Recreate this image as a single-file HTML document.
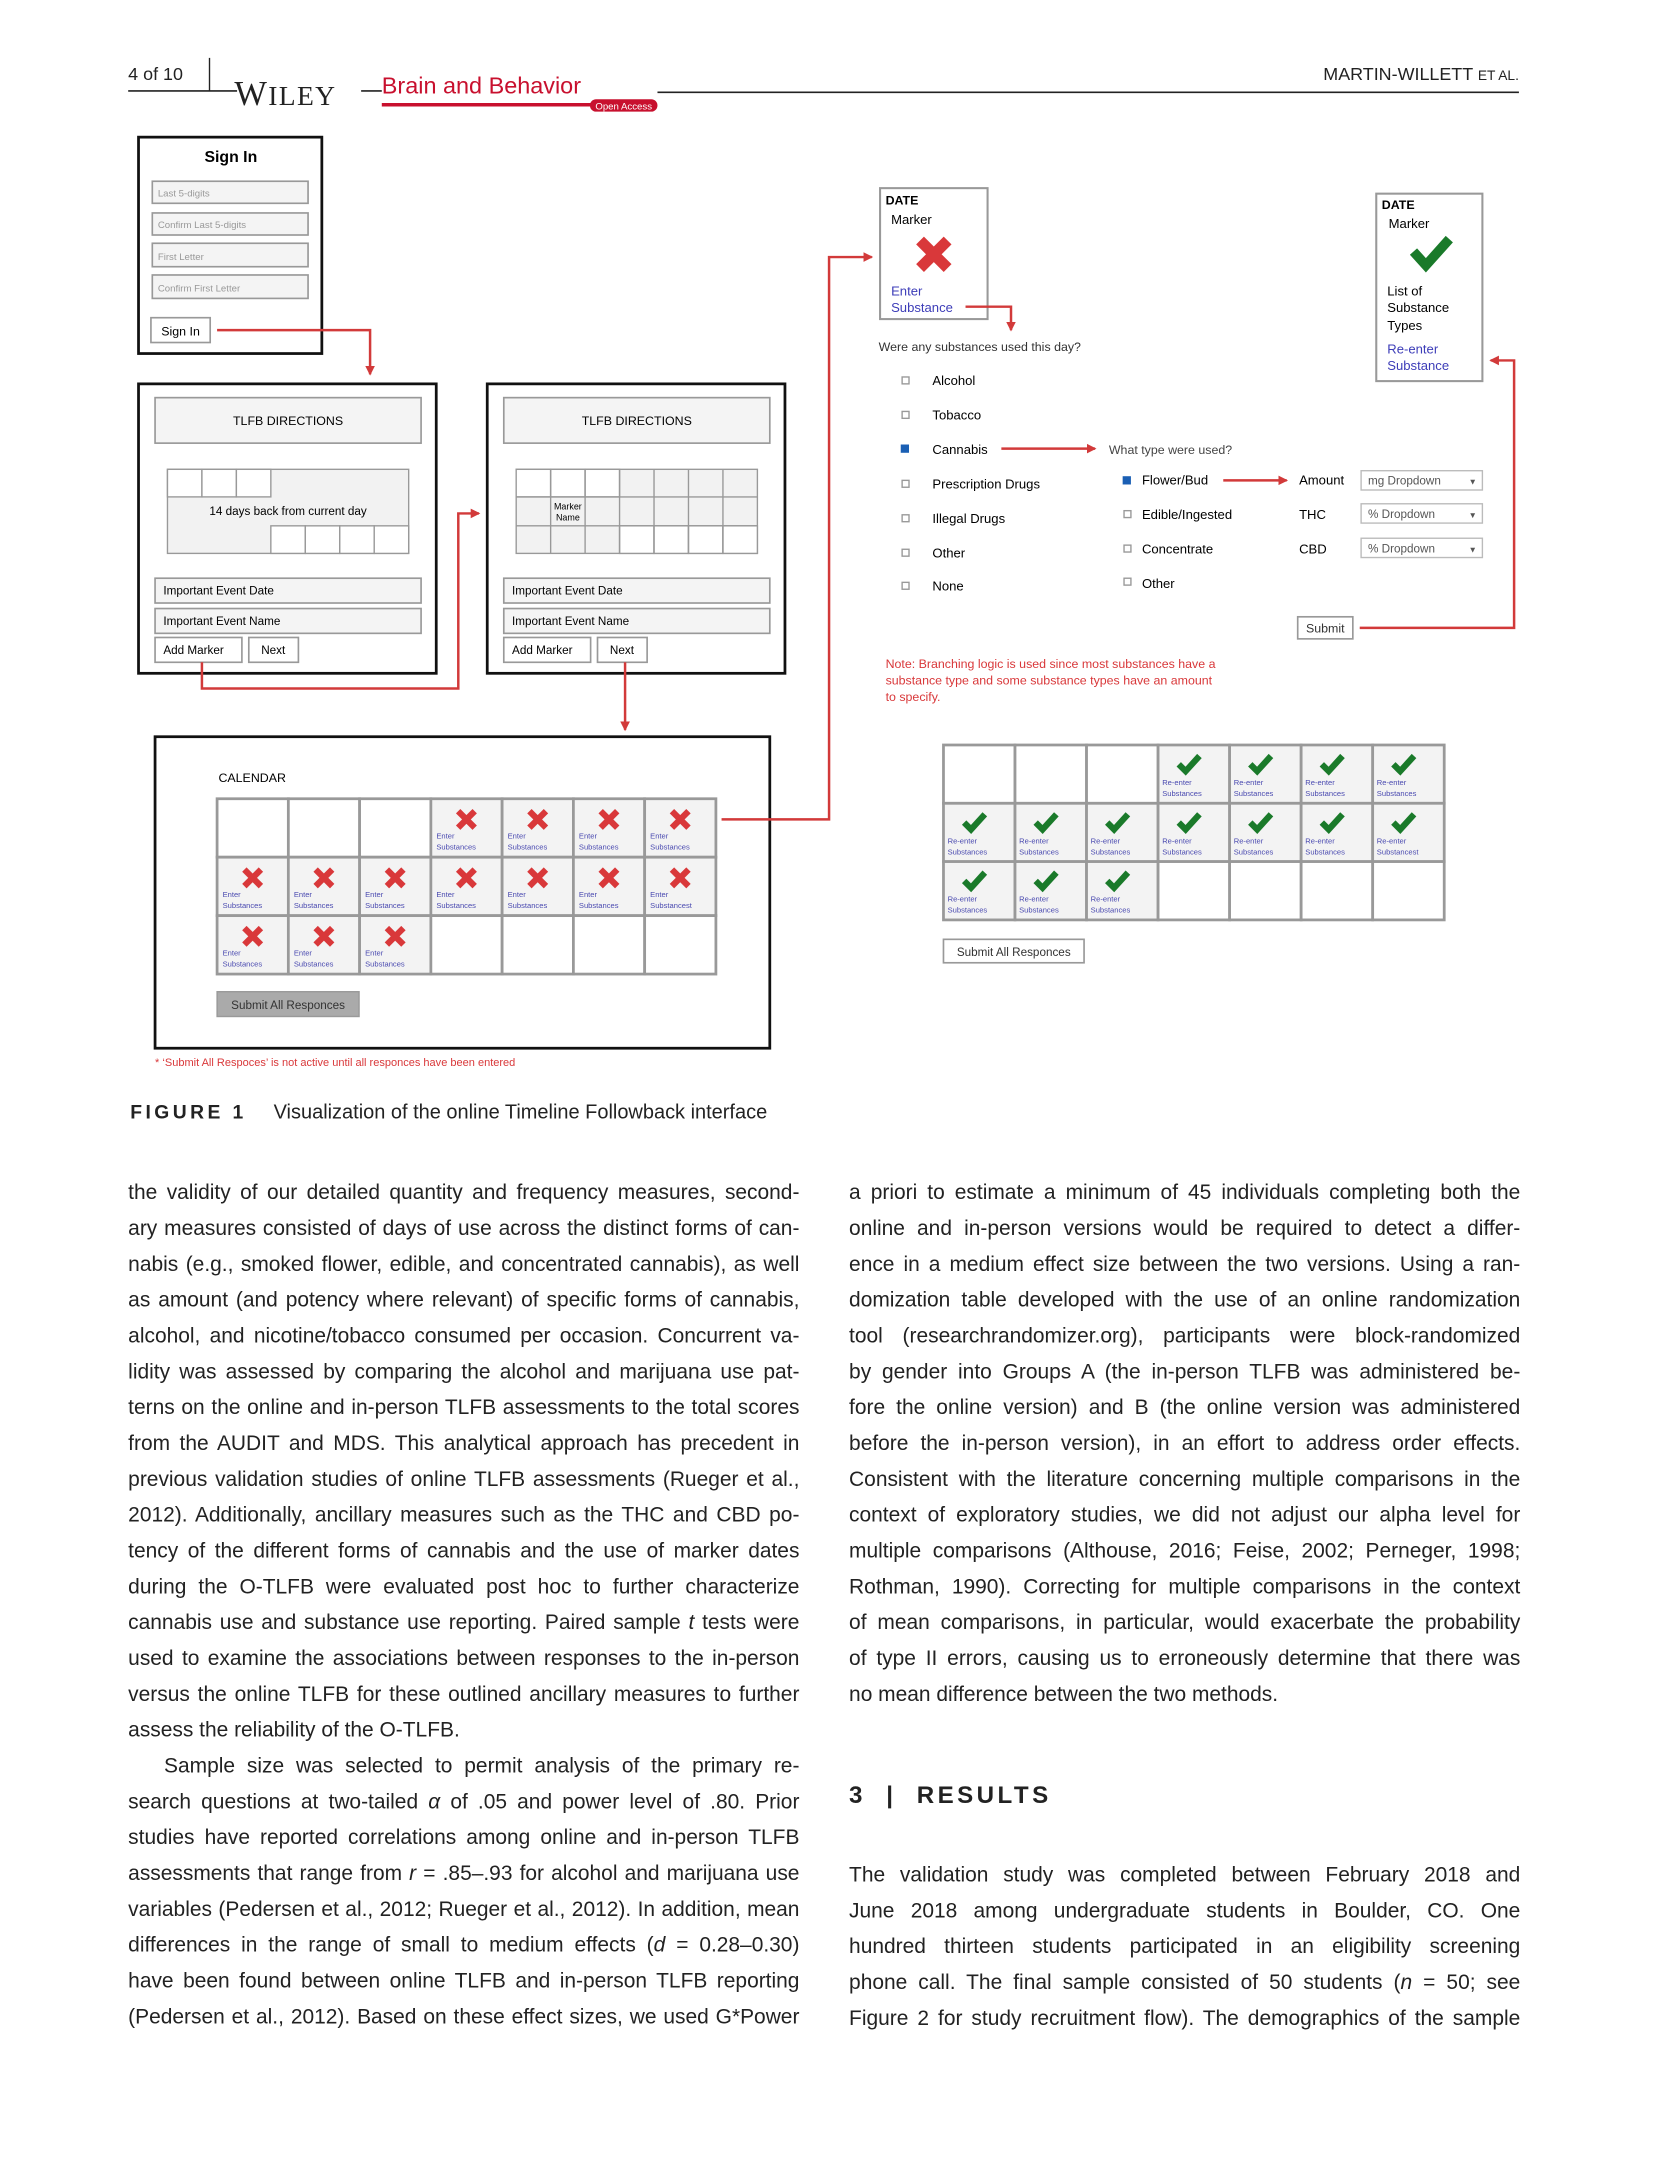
<!DOCTYPE html>
<html><head><meta charset="utf-8">
<style>
html,body{margin:0;padding:0;background:#fff;}
body{width:1654px;height:2174px;overflow:hidden;position:relative;}
#wrap{position:absolute;left:0;top:0;width:1200px;height:1577px;transform:scale(1.378333);transform-origin:0 0;font-family:"Liberation Sans",sans-serif;color:#222;}
.ln{position:absolute;width:487px;font-size:15.2px;line-height:26px;height:26px;white-space:nowrap;text-align:justify;text-align-last:justify;overflow:hidden;}
.ln.l{left:93px}.ln.r{left:616px}
.ln.last{text-align-last:left}
svg text{font-family:"Liberation Sans",sans-serif;}
</style></head><body><div id="wrap">
<svg width="1200" height="830" viewBox="0 0 1200 830" style="position:absolute;left:0;top:0">
<defs>
<g id="xx"><path d="M-6,-6 L6,6 M6,-6 L-6,6" stroke="#d9383a" stroke-width="4.5" fill="none"/></g>
<g id="ck"><path d="M-7,0 L-2,5 L8,-6" stroke="#1a7a2a" stroke-width="4.5" fill="none"/></g>
<marker id="ah" markerWidth="8" markerHeight="8" refX="6" refY="4" orient="auto" markerUnits="userSpaceOnUse"><path d="M0,0.5 L7,4 L0,7.5 z" fill="#d23a3a"/></marker>
</defs>
<!-- header -->
<text x="93" y="58" font-size="13" fill="#222">4 of 10</text>
<line x1="152" y1="42" x2="152" y2="66" stroke="#222" stroke-width="1"/>
<line x1="93" y1="66" x2="172" y2="66" stroke="#222" stroke-width="1.2"/>
<text x="170" y="76" font-size="25" fill="#222" style="font-family:'Liberation Serif',serif" letter-spacing="1">W<tspan font-size="20">ILEY</tspan></text>
<line x1="262" y1="66" x2="277" y2="66" stroke="#222" stroke-width="1.2"/>
<text x="277" y="68" font-size="17" fill="#c8102e">Brain and Behavior</text>
<line x1="277" y1="76" x2="430" y2="76" stroke="#c8102e" stroke-width="2.5"/>
<rect x="428" y="72" width="49" height="9" rx="4.5" fill="#c8102e"/>
<text x="452.5" y="79.5" font-size="7" fill="#fff" text-anchor="middle">Open Access</text>
<line x1="477" y1="67" x2="1102" y2="67" stroke="#222" stroke-width="1.2"/>
<text x="1102" y="58" font-size="13" fill="#222" text-anchor="end">MARTIN-WILLETT <tspan font-size="10">ET AL.</tspan></text>

<g transform="translate(1.5,3.5)">
<!-- sign in -->
<rect x="99" y="96" width="133" height="157" fill="#fff" stroke="#111" stroke-width="2"/>
<text x="166" y="114" font-size="11.5" font-weight="bold" text-anchor="middle">Sign In</text>
<g fill="#f4f4f4" stroke="#999" stroke-width="1.2">
<rect x="109" y="128" width="113" height="16"/><rect x="109" y="151" width="113" height="16"/>
<rect x="109" y="173" width="113" height="17"/><rect x="109" y="196" width="113" height="17"/></g>
<g font-size="7" fill="#999"><text x="113" y="139">Last 5-digits</text><text x="113" y="162">Confirm Last 5-digits</text><text x="113" y="185">First Letter</text><text x="113" y="208">Confirm First Letter</text></g>
<rect x="108" y="227" width="43" height="18" fill="#fff" stroke="#999" stroke-width="1.2"/>
<text x="129.5" y="240" font-size="9" text-anchor="middle">Sign In</text>
<polyline points="156,236 267,236 267,268" fill="none" stroke="#d23a3a" stroke-width="1.8" marker-end="url(#ah)"/>

<!-- TLFB 1 -->
<rect x="99" y="275" width="216" height="210" fill="#fff" stroke="#111" stroke-width="2"/>
<rect x="111" y="285" width="193" height="33" fill="#f4f4f4" stroke="#999" stroke-width="1.2"/>
<text x="207.5" y="305" font-size="9" text-anchor="middle">TLFB DIRECTIONS</text>
<rect x="120" y="337" width="175" height="61" fill="#f2f2f2" stroke="#999" stroke-width="1"/>
<g fill="#fff" stroke="#999" stroke-width="1"><rect x="120" y="337" width="25" height="20"/><rect x="145" y="337" width="25" height="20"/><rect x="170" y="337" width="25" height="20"/>
<rect x="195" y="378" width="25" height="20"/><rect x="220" y="378" width="25" height="20"/><rect x="245" y="378" width="25" height="20"/><rect x="270" y="378" width="25" height="20"/></g>
<text x="207.5" y="370" font-size="8.5" text-anchor="middle">14 days back from current day</text>
<g fill="#f4f4f4" stroke="#999" stroke-width="1.2"><rect x="111" y="416" width="193" height="18"/><rect x="111" y="438" width="193" height="18"/></g>
<g fill="#fff" stroke="#999" stroke-width="1.2"><rect x="111" y="459" width="63" height="18"/><rect x="179" y="459" width="36" height="18"/></g>
<g font-size="8.5"><text x="117" y="428">Important Event Date</text><text x="117" y="450">Important Event Name</text><text x="117" y="471">Add Marker</text><text x="188" y="471">Next</text></g>

<!-- TLFB 2 -->
<rect x="352" y="275" width="216" height="210" fill="#fff" stroke="#111" stroke-width="2"/>
<rect x="364" y="285" width="193" height="33" fill="#f4f4f4" stroke="#999" stroke-width="1.2"/>
<text x="460.5" y="305" font-size="9" text-anchor="middle">TLFB DIRECTIONS</text>
<rect x="373" y="337" width="175" height="61" fill="#f2f2f2" stroke="#999" stroke-width="1"/>
<g fill="#fff" stroke="#999" stroke-width="1"><rect x="373" y="337" width="25" height="20"/><rect x="398" y="337" width="25" height="20"/><rect x="423" y="337" width="25" height="20"/>
<rect x="448" y="378" width="25" height="20"/><rect x="473" y="378" width="25" height="20"/><rect x="498" y="378" width="25" height="20"/><rect x="523" y="378" width="25" height="20"/></g>
<g fill="none" stroke="#999" stroke-width="1"><line x1="398" y1="337" x2="398" y2="398"/><line x1="423" y1="337" x2="423" y2="398"/><line x1="448" y1="337" x2="448" y2="398"/><line x1="473" y1="337" x2="473" y2="398"/><line x1="498" y1="337" x2="498" y2="398"/><line x1="523" y1="337" x2="523" y2="398"/><line x1="373" y1="357" x2="548" y2="357"/><line x1="373" y1="378" x2="548" y2="378"/></g>
<text x="410.5" y="366" font-size="6.5" text-anchor="middle">Marker</text><text x="410.5" y="374" font-size="6.5" text-anchor="middle">Name</text>
<g fill="#f4f4f4" stroke="#999" stroke-width="1.2"><rect x="364" y="416" width="193" height="18"/><rect x="364" y="438" width="193" height="18"/></g>
<g fill="#fff" stroke="#999" stroke-width="1.2"><rect x="364" y="459" width="63" height="18"/><rect x="432" y="459" width="36" height="18"/></g>
<g font-size="8.5"><text x="370" y="428">Important Event Date</text><text x="370" y="450">Important Event Name</text><text x="370" y="471">Add Marker</text><text x="441" y="471">Next</text></g>

<polyline points="145,477 145,496 331,496 331,369 346,369" fill="none" stroke="#d23a3a" stroke-width="1.8" marker-end="url(#ah)"/>
<polyline points="452,477 452,526" fill="none" stroke="#d23a3a" stroke-width="1.8" marker-end="url(#ah)"/>

<!-- calendar -->
<rect x="111" y="531" width="446" height="226" fill="#fff" stroke="#111" stroke-width="2"/>
<text x="157" y="564" font-size="9">CALENDAR</text>
<g font-size="5.5" fill="#4a4ab0" stroke="#999" stroke-width="2">
<g transform="translate(156,576)"><rect width="51.7" height="42.4" fill="#fff"/></g>
<g transform="translate(207.7,576)"><rect width="51.7" height="42.4" fill="#fff"/></g>
<g transform="translate(259.4,576)"><rect width="51.7" height="42.4" fill="#fff"/></g>
<g transform="translate(311.1,576)"><rect width="51.7" height="42.4" fill="#f3f3f3"/><use href="#xx" x="25.8" y="15"/><text x="4" y="29" stroke="none">Enter</text><text x="4" y="37" stroke="none">Substances</text></g>
<g transform="translate(362.8,576)"><rect width="51.7" height="42.4" fill="#f3f3f3"/><use href="#xx" x="25.8" y="15"/><text x="4" y="29" stroke="none">Enter</text><text x="4" y="37" stroke="none">Substances</text></g>
<g transform="translate(414.5,576)"><rect width="51.7" height="42.4" fill="#f3f3f3"/><use href="#xx" x="25.8" y="15"/><text x="4" y="29" stroke="none">Enter</text><text x="4" y="37" stroke="none">Substances</text></g>
<g transform="translate(466.2,576)"><rect width="51.7" height="42.4" fill="#f3f3f3"/><use href="#xx" x="25.8" y="15"/><text x="4" y="29" stroke="none">Enter</text><text x="4" y="37" stroke="none">Substances</text></g>
<g transform="translate(156,618.4)"><rect width="51.7" height="42.4" fill="#f3f3f3"/><use href="#xx" x="25.8" y="15"/><text x="4" y="29" stroke="none">Enter</text><text x="4" y="37" stroke="none">Substances</text></g>
<g transform="translate(207.7,618.4)"><rect width="51.7" height="42.4" fill="#f3f3f3"/><use href="#xx" x="25.8" y="15"/><text x="4" y="29" stroke="none">Enter</text><text x="4" y="37" stroke="none">Substances</text></g>
<g transform="translate(259.4,618.4)"><rect width="51.7" height="42.4" fill="#f3f3f3"/><use href="#xx" x="25.8" y="15"/><text x="4" y="29" stroke="none">Enter</text><text x="4" y="37" stroke="none">Substances</text></g>
<g transform="translate(311.1,618.4)"><rect width="51.7" height="42.4" fill="#f3f3f3"/><use href="#xx" x="25.8" y="15"/><text x="4" y="29" stroke="none">Enter</text><text x="4" y="37" stroke="none">Substances</text></g>
<g transform="translate(362.8,618.4)"><rect width="51.7" height="42.4" fill="#f3f3f3"/><use href="#xx" x="25.8" y="15"/><text x="4" y="29" stroke="none">Enter</text><text x="4" y="37" stroke="none">Substances</text></g>
<g transform="translate(414.5,618.4)"><rect width="51.7" height="42.4" fill="#f3f3f3"/><use href="#xx" x="25.8" y="15"/><text x="4" y="29" stroke="none">Enter</text><text x="4" y="37" stroke="none">Substances</text></g>
<g transform="translate(466.2,618.4)"><rect width="51.7" height="42.4" fill="#f3f3f3"/><use href="#xx" x="25.8" y="15"/><text x="4" y="29" stroke="none">Enter</text><text x="4" y="37" stroke="none">Substancest</text></g>
<g transform="translate(156,660.8)"><rect width="51.7" height="42.4" fill="#f3f3f3"/><use href="#xx" x="25.8" y="15"/><text x="4" y="29" stroke="none">Enter</text><text x="4" y="37" stroke="none">Substances</text></g>
<g transform="translate(207.7,660.8)"><rect width="51.7" height="42.4" fill="#f3f3f3"/><use href="#xx" x="25.8" y="15"/><text x="4" y="29" stroke="none">Enter</text><text x="4" y="37" stroke="none">Substances</text></g>
<g transform="translate(259.4,660.8)"><rect width="51.7" height="42.4" fill="#f3f3f3"/><use href="#xx" x="25.8" y="15"/><text x="4" y="29" stroke="none">Enter</text><text x="4" y="37" stroke="none">Substances</text></g>
<g transform="translate(311.1,660.8)"><rect width="51.7" height="42.4" fill="#fff"/></g>
<g transform="translate(362.8,660.8)"><rect width="51.7" height="42.4" fill="#fff"/></g>
<g transform="translate(414.5,660.8)"><rect width="51.7" height="42.4" fill="#fff"/></g>
<g transform="translate(466.2,660.8)"><rect width="51.7" height="42.4" fill="#fff"/></g>
</g>
<rect x="156" y="716" width="103" height="18" fill="#aaa" stroke="#999" stroke-width="1"/>
<text x="207.5" y="728.5" font-size="8.5" text-anchor="middle" fill="#333">Submit All Responces</text>
<text x="111" y="770" font-size="8" fill="#d9383a">* ‘Submit All Respoces’ is not active until all responces have been entered</text>
<polyline points="522,591 600,591 600,183 631,183" fill="none" stroke="#d23a3a" stroke-width="1.8" marker-end="url(#ah)"/>

<!-- DATE box 1 -->
<rect x="637" y="133" width="78" height="95" fill="#fff" stroke="#999" stroke-width="1.5"/>
<text x="641" y="145" font-size="9" font-weight="bold">DATE</text>
<text x="645" y="159" font-size="9.5">Marker</text>
<path d="M666,171 L686,191 M686,171 L666,191" stroke="#d9383a" stroke-width="8" fill="none"/>
<g font-size="9.5" fill="#3d3db8"><text x="645" y="211">Enter</text><text x="645" y="223">Substance</text></g>
<polyline points="699,219 732,219 732,236" fill="none" stroke="#d23a3a" stroke-width="1.8" marker-end="url(#ah)"/>
<text x="636" y="251" font-size="9" fill="#333">Were any substances used this day?</text>
<g fill="#fff" stroke="#999" stroke-width="1"><rect x="653" y="270" width="5" height="5"/><rect x="653" y="295" width="5" height="5"/><rect x="653" y="345" width="5" height="5"/><rect x="653" y="370" width="5" height="5"/><rect x="653" y="395" width="5" height="5"/><rect x="653" y="419" width="5" height="5"/>
<rect x="814" y="367" width="5" height="5"/><rect x="814" y="392" width="5" height="5"/><rect x="814" y="416" width="5" height="5"/></g>
<rect x="652" y="319" width="6" height="6" fill="#1a5fb4"/>
<rect x="813" y="342" width="6" height="6" fill="#1a5fb4"/>
<g font-size="9.5"><text x="675" y="276">Alcohol</text><text x="675" y="301">Tobacco</text><text x="675" y="326">Cannabis</text><text x="675" y="351">Prescription Drugs</text><text x="675" y="376">Illegal Drugs</text><text x="675" y="401">Other</text><text x="675" y="425">None</text>
<text x="827" y="348">Flower/Bud</text><text x="827" y="373">Edible/Ingested</text><text x="827" y="398">Concentrate</text><text x="827" y="423">Other</text>
<text x="941" y="348">Amount</text><text x="941" y="373">THC</text><text x="941" y="398">CBD</text></g>
<text x="803" y="326" font-size="9" fill="#444">What type were used?</text>
<line x1="725" y1="322" x2="793" y2="322" stroke="#d23a3a" stroke-width="1.8" marker-end="url(#ah)"/>
<line x1="886" y1="345" x2="932" y2="345" stroke="#d23a3a" stroke-width="1.8" marker-end="url(#ah)"/>
<g fill="#fff" stroke="#bbb" stroke-width="1"><rect x="986" y="338" width="88" height="14"/><rect x="986" y="362" width="88" height="14"/><rect x="986" y="387" width="88" height="14"/></g>
<g font-size="8.5" fill="#555"><text x="991" y="348">mg Dropdown</text><text x="991" y="372.5">% Dropdown</text><text x="991" y="397.5">% Dropdown</text>
<text x="1064" y="348" font-size="6">▼</text><text x="1064" y="372.5" font-size="6">▼</text><text x="1064" y="397.5" font-size="6">▼</text></g>
<rect x="940" y="444" width="40" height="16" fill="#fff" stroke="#999" stroke-width="1.2"/>
<text x="960" y="455.5" font-size="9" text-anchor="middle" fill="#333">Submit</text>
<polyline points="985,452 1097,452 1097,258 1080,258" fill="none" stroke="#d23a3a" stroke-width="1.8" marker-end="url(#ah)"/>
<!-- DATE box 2 -->
<rect x="997" y="137" width="77" height="136" fill="#fff" stroke="#999" stroke-width="1.5"/>
<text x="1001" y="148" font-size="9" font-weight="bold">DATE</text>
<text x="1006" y="162" font-size="9.5">Marker</text>
<path d="M1024,179 L1033,189 L1050,170" stroke="#1a7a2a" stroke-width="7" fill="none"/>
<g font-size="9.5"><text x="1005" y="211">List of</text><text x="1005" y="223">Substance</text><text x="1005" y="236">Types</text></g>
<g font-size="9.5" fill="#3d3db8"><text x="1005" y="253">Re-enter</text><text x="1005" y="265">Substance</text></g>
<g font-size="9" fill="#d9383a"><text x="641" y="481">Note: Branching logic is used since most substances have a</text><text x="641" y="493">substance type and some substance types have an amount</text><text x="641" y="505">to specify.</text></g>

<!-- right grid -->
<g font-size="5.5" fill="#4a4ab0" stroke="#999" stroke-width="2">
<g transform="translate(683,537)"><rect width="51.9" height="42.3" fill="#fff"/></g>
<g transform="translate(734.9,537)"><rect width="51.9" height="42.3" fill="#fff"/></g>
<g transform="translate(786.8,537)"><rect width="51.9" height="42.3" fill="#fff"/></g>
<g transform="translate(838.7,537)"><rect width="51.9" height="42.3" fill="#f3f3f3"/><use href="#ck" x="22" y="14"/><text x="3" y="29" stroke="none">Re-enter</text><text x="3" y="37" stroke="none">Substances</text></g>
<g transform="translate(890.6,537)"><rect width="51.9" height="42.3" fill="#f3f3f3"/><use href="#ck" x="22" y="14"/><text x="3" y="29" stroke="none">Re-enter</text><text x="3" y="37" stroke="none">Substances</text></g>
<g transform="translate(942.5,537)"><rect width="51.9" height="42.3" fill="#f3f3f3"/><use href="#ck" x="22" y="14"/><text x="3" y="29" stroke="none">Re-enter</text><text x="3" y="37" stroke="none">Substances</text></g>
<g transform="translate(994.4,537)"><rect width="51.9" height="42.3" fill="#f3f3f3"/><use href="#ck" x="22" y="14"/><text x="3" y="29" stroke="none">Re-enter</text><text x="3" y="37" stroke="none">Substances</text></g>
<g transform="translate(683,579.3)"><rect width="51.9" height="42.3" fill="#f3f3f3"/><use href="#ck" x="22" y="14"/><text x="3" y="29" stroke="none">Re-enter</text><text x="3" y="37" stroke="none">Substances</text></g>
<g transform="translate(734.9,579.3)"><rect width="51.9" height="42.3" fill="#f3f3f3"/><use href="#ck" x="22" y="14"/><text x="3" y="29" stroke="none">Re-enter</text><text x="3" y="37" stroke="none">Substances</text></g>
<g transform="translate(786.8,579.3)"><rect width="51.9" height="42.3" fill="#f3f3f3"/><use href="#ck" x="22" y="14"/><text x="3" y="29" stroke="none">Re-enter</text><text x="3" y="37" stroke="none">Substances</text></g>
<g transform="translate(838.7,579.3)"><rect width="51.9" height="42.3" fill="#f3f3f3"/><use href="#ck" x="22" y="14"/><text x="3" y="29" stroke="none">Re-enter</text><text x="3" y="37" stroke="none">Substances</text></g>
<g transform="translate(890.6,579.3)"><rect width="51.9" height="42.3" fill="#f3f3f3"/><use href="#ck" x="22" y="14"/><text x="3" y="29" stroke="none">Re-enter</text><text x="3" y="37" stroke="none">Substances</text></g>
<g transform="translate(942.5,579.3)"><rect width="51.9" height="42.3" fill="#f3f3f3"/><use href="#ck" x="22" y="14"/><text x="3" y="29" stroke="none">Re-enter</text><text x="3" y="37" stroke="none">Substances</text></g>
<g transform="translate(994.4,579.3)"><rect width="51.9" height="42.3" fill="#f3f3f3"/><use href="#ck" x="22" y="14"/><text x="3" y="29" stroke="none">Re-enter</text><text x="3" y="37" stroke="none">Substancest</text></g>
<g transform="translate(683,621.6)"><rect width="51.9" height="42.3" fill="#f3f3f3"/><use href="#ck" x="22" y="14"/><text x="3" y="29" stroke="none">Re-enter</text><text x="3" y="37" stroke="none">Substances</text></g>
<g transform="translate(734.9,621.6)"><rect width="51.9" height="42.3" fill="#f3f3f3"/><use href="#ck" x="22" y="14"/><text x="3" y="29" stroke="none">Re-enter</text><text x="3" y="37" stroke="none">Substances</text></g>
<g transform="translate(786.8,621.6)"><rect width="51.9" height="42.3" fill="#f3f3f3"/><use href="#ck" x="22" y="14"/><text x="3" y="29" stroke="none">Re-enter</text><text x="3" y="37" stroke="none">Substances</text></g>
<g transform="translate(838.7,621.6)"><rect width="51.9" height="42.3" fill="#fff"/></g>
<g transform="translate(890.6,621.6)"><rect width="51.9" height="42.3" fill="#fff"/></g>
<g transform="translate(942.5,621.6)"><rect width="51.9" height="42.3" fill="#fff"/></g>
<g transform="translate(994.4,621.6)"><rect width="51.9" height="42.3" fill="#fff"/></g>
</g>
<rect x="683" y="678" width="102" height="17" fill="#fff" stroke="#999" stroke-width="1.2"/>
<text x="734" y="690" font-size="8.5" text-anchor="middle" fill="#333">Submit All Responces</text>

<text x="93" y="808" font-size="14" font-weight="bold" letter-spacing="2.5" fill="#222">FIGURE 1</text>
<text x="197" y="808" font-size="14.5" fill="#222">Visualization of the online Timeline Followback interface</text>
</g>
</svg>

<div class="ln l" style="top:853px">the validity of our detailed quantity and frequency measures, second-</div>
<div class="ln l" style="top:879px">ary measures consisted of days of use across the distinct forms of can-</div>
<div class="ln l" style="top:905px">nabis (e.g., smoked flower, edible, and concentrated cannabis), as well</div>
<div class="ln l" style="top:931px">as amount (and potency where relevant) of specific forms of cannabis,</div>
<div class="ln l" style="top:957px">alcohol, and nicotine/tobacco consumed per occasion. Concurrent va-</div>
<div class="ln l" style="top:983px">lidity was assessed by comparing the alcohol and marijuana use pat-</div>
<div class="ln l" style="top:1009px">terns on the online and in-person TLFB assessments to the total scores</div>
<div class="ln l" style="top:1035px">from the AUDIT and MDS. This analytical approach has precedent in</div>
<div class="ln l" style="top:1061px">previous validation studies of online TLFB assessments (Rueger et al.,</div>
<div class="ln l" style="top:1087px">2012). Additionally, ancillary measures such as the THC and CBD po-</div>
<div class="ln l" style="top:1113px">tency of the different forms of cannabis and the use of marker dates</div>
<div class="ln l" style="top:1139px">during the O-TLFB were evaluated post hoc to further characterize</div>
<div class="ln l" style="top:1165px">cannabis use and substance use reporting. Paired sample <i>t</i> tests were</div>
<div class="ln l" style="top:1191px">used to examine the associations between responses to the in-person</div>
<div class="ln l" style="top:1217px">versus the online TLFB for these outlined ancillary measures to further</div>
<div class="ln l last" style="top:1243px">assess the reliability of the O-TLFB.</div>
<div class="ln l" style="top:1269px;left:119px;width:461px">Sample size was selected to permit analysis of the primary re-</div>
<div class="ln l" style="top:1295px">search questions at two-tailed <i>α</i> of .05 and power level of .80. Prior</div>
<div class="ln l" style="top:1321px">studies have reported correlations among online and in-person TLFB</div>
<div class="ln l" style="top:1347px">assessments that range from <i>r</i> = .85–.93 for alcohol and marijuana use</div>
<div class="ln l" style="top:1373px">variables (Pedersen et al., 2012; Rueger et al., 2012). In addition, mean</div>
<div class="ln l" style="top:1399px">differences in the range of small to medium effects (<i>d</i> = 0.28–0.30)</div>
<div class="ln l" style="top:1425px">have been found between online TLFB and in-person TLFB reporting</div>
<div class="ln l" style="top:1451px">(Pedersen et al., 2012). Based on these effect sizes, we used G*Power</div>

<div class="ln r" style="top:853px">a priori to estimate a minimum of 45 individuals completing both the</div>
<div class="ln r" style="top:879px">online and in-person versions would be required to detect a differ-</div>
<div class="ln r" style="top:905px">ence in a medium effect size between the two versions. Using a ran-</div>
<div class="ln r" style="top:931px">domization table developed with the use of an online randomization</div>
<div class="ln r" style="top:957px">tool (researchrandomizer.org), participants were block-randomized</div>
<div class="ln r" style="top:983px">by gender into Groups A (the in-person TLFB was administered be-</div>
<div class="ln r" style="top:1009px">fore the online version) and B (the online version was administered</div>
<div class="ln r" style="top:1035px">before the in-person version), in an effort to address order effects.</div>
<div class="ln r" style="top:1061px">Consistent with the literature concerning multiple comparisons in the</div>
<div class="ln r" style="top:1087px">context of exploratory studies, we did not adjust our alpha level for</div>
<div class="ln r" style="top:1113px">multiple comparisons (Althouse, 2016; Feise, 2002; Perneger, 1998;</div>
<div class="ln r" style="top:1139px">Rothman, 1990). Correcting for multiple comparisons in the context</div>
<div class="ln r" style="top:1165px">of mean comparisons, in particular, would exacerbate the probability</div>
<div class="ln r" style="top:1191px">of type II errors, causing us to erroneously determine that there was</div>
<div class="ln r last" style="top:1217px">no mean difference between the two methods.</div>
<div style="position:absolute;left:616px;top:1292px;font-size:17.5px;font-weight:bold;letter-spacing:2.5px;color:#222">3&nbsp;&nbsp;|&nbsp;&nbsp;RESULTS</div>
<div class="ln r" style="top:1348px">The validation study was completed between February 2018 and</div>
<div class="ln r" style="top:1374px">June 2018 among undergraduate students in Boulder, CO. One</div>
<div class="ln r" style="top:1400px">hundred thirteen students participated in an eligibility screening</div>
<div class="ln r" style="top:1426px">phone call. The final sample consisted of 50 students (<i>n</i> = 50; see</div>
<div class="ln r" style="top:1452px">Figure 2 for study recruitment flow). The demographics of the sample</div>
</div></body></html>
